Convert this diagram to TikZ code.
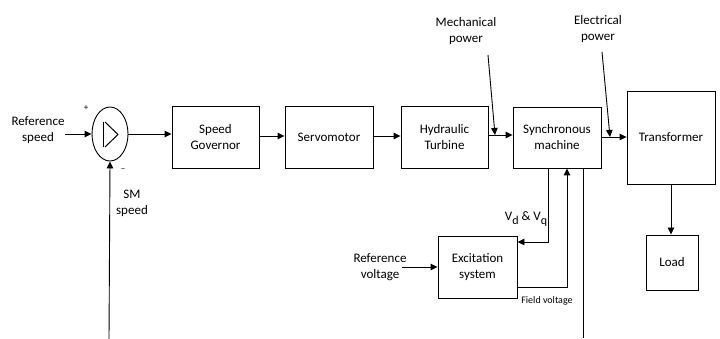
\documentclass[tikz,border=0pt]{standalone}
\usepackage{fontspec}
\setmainfont{Carlito}
\usetikzlibrary{arrows.meta,shapes.geometric,calc}
\newcommand{\lowsub}[1]{\raisebox{-3.5pt}{\fontsize{12}{12}\selectfont #1}}
\begin{document}
\begin{tikzpicture}[x=1pt,y=-1pt,
  every node/.style={font=\fontsize{13}{16}\selectfont, align=center, inner sep=0pt},
  blk/.style={draw, line width=0.9pt, rectangle},
  wire/.style={line width=0.9pt},
  arr/.style={wire, -{Triangle[length=7pt,width=6.5pt]}},
  small/.style={font=\fontsize{10}{12}\selectfont}]
\useasboundingbox (0,0) rectangle (720,339);

% summing junction
\node[draw, line width=0.9pt, ellipse, minimum width=36pt, minimum height=54pt] (sum) at (110,134) {};
\draw[line width=1pt] (103,122) -- (103,147);
\draw[line width=1pt] (105,122) -- (118,134.5) -- (105,147);
\node at (86,108) {\fontsize{9}{10}\selectfont +};
\node at (123,170) {\fontsize{9}{10}\selectfont –};

% blocks
\node[blk, minimum width=87pt, minimum height=62pt] (gov) at (215.5,137) {Speed\\Governor};
\node[blk, minimum width=88pt, minimum height=62pt] (servo) at (329,137) {Servomotor};
\node[blk, minimum width=87pt, minimum height=62pt] (turb) at (444.5,137) {Hydraulic\\Turbine};
\node[blk, minimum width=88pt, minimum height=61pt] (sync) at (557,137.5) {Synchronous\\machine};
\node[blk, minimum width=88pt, minimum height=93pt] (trans) at (671,137.5) {Transformer};
\node[blk, minimum width=52pt, minimum height=55pt] (load) at (672,262.5) {Load};
\node[blk, minimum width=79pt, minimum height=62pt] (exc) at (477.5,267) {Excitation\\system};

% labels
\node (refspd) at (38,130) {Reference\\speed};
\node (smspd) at (132,203) {SM\\speed};
\node (mech) at (466,31) {Mechanical\\power};
\node (elec) at (598,29) {Electrical\\power};
\node (refv) at (380,267) {Reference\\voltage};
\node (vdq) at (526,219) {V\lowsub{d} \& V\lowsub{q}};
\node[small] (fld) at (547,301) {Field voltage};

% auxiliary points
\coordinate (refin) at (65,134);
\coordinate (smin) at (109,339);
\coordinate (mechtail) at (488,55);
\coordinate (mechtip) at (495,135);
\coordinate (electail) at (602,52);
\coordinate (electip) at (610,137);
\coordinate (refvin) at (402,267);
\coordinate (vdqdown) at (548,242);
\coordinate (fldcorner) at (567,287);
\coordinate (outbot) at (583,338);

% forward path
\draw[arr] (refin) -- (sum.west |- refin);
\draw[arr] (smin) -- (sum.south);
\draw[arr] (sum.east) -- (sum.east -| gov.west);
\draw[arr] (gov.east |- 0,136) -- (servo.west |- 0,136);
\draw[arr] (servo.east |- 0,136) -- (turb.west |- 0,136);
\draw[arr] (turb.east |- 0,135) -- (sync.west |- 0,135);
\draw[arr] (sync.east |- 0,137) -- (trans.west |- 0,137);
\draw[arr] (trans.south -| 671,0) -- (load.north -| 671,0);

% power annotations
\draw[arr] (mechtail) -- (mechtip);
\draw[arr] (electail) -- (electip);

% excitation loop
\draw[arr] (refvin) -- (exc.west |- refvin);
\draw[arr] (sync.south -| vdqdown) -- (vdqdown) -- (exc.east |- vdqdown);
\draw[arr] (exc.east |- fldcorner) -- (fldcorner) -- (sync.south -| fldcorner);
\draw[wire] (sync.south -| outbot) -- (outbot);
\end{tikzpicture}
\end{document}
